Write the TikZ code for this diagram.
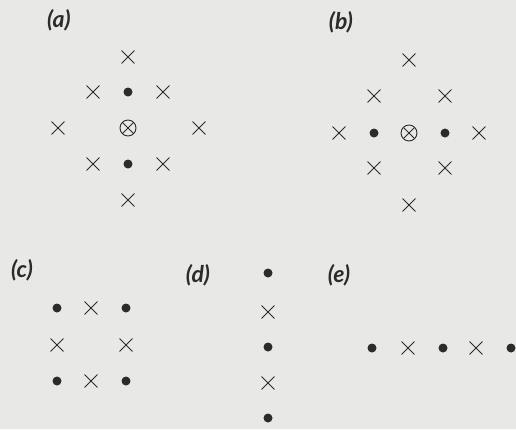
\documentclass[tikz,border=0pt]{standalone}
\usepackage{fontspec}
\newfontfamily\panelfont{Lato}
\usetikzlibrary{shapes.misc}
\definecolor{Paper}{HTML}{E8E8E6}
\definecolor{Ink}{HTML}{2B2B2B}

\begin{document}
\begin{tikzpicture}[x=1pt, y=-1pt,
  xmark/.style={cross out, draw=Ink, line width=0.9pt, minimum size=12pt, inner sep=0pt},
  dotmark/.style={circle, fill=Ink, minimum size=9pt, inner sep=0pt},
  otimes/.style={circle, draw=Ink, line width=0.9pt, minimum size=16pt, inner sep=0pt,
                 path picture={\draw[Ink, line width=0.9pt]
                   (path picture bounding box.north west) -- (path picture bounding box.south east)
                   (path picture bounding box.north east) -- (path picture bounding box.south west);}},
  panel/.style={font=\panelfont\itshape\bfseries\fontsize{23}{26}\selectfont, text=Ink}]
  \fill[Paper] (0,0) rectangle (516,429);
  \clip (0,0) rectangle (516,429);
  % (a)
  \node[panel] (la) at (59,20) {(a)};
  \node[otimes] (a0) at (128,128) {};
  \node[xmark] (a1) at (128,57) {};
  \node[xmark] (a2) at (93,92) {};
  \node[dotmark] (a3) at (128,92) {};
  \node[xmark] (a4) at (163,92) {};
  \node[xmark] (a5) at (58,128) {};
  \node[xmark] (a6) at (199,128) {};
  \node[xmark] (a7) at (93,164) {};
  \node[dotmark] (a8) at (128,164) {};
  \node[xmark] (a9) at (163,164) {};
  \node[xmark] (a10) at (128,200) {};
  % (b)
  \node[panel] (lb) at (341,22) {(b)};
  \node[otimes] (b0) at (409,133) {};
  \node[xmark] (b1) at (409,60) {};
  \node[xmark] (b2) at (374,96) {};
  \node[xmark] (b3) at (445,96) {};
  \node[xmark] (b4) at (339,133) {};
  \node[dotmark] (b5) at (374,133) {};
  \node[dotmark] (b6) at (445,133) {};
  \node[xmark] (b7) at (479,133) {};
  \node[xmark] (b8) at (374,168) {};
  \node[xmark] (b9) at (445,168) {};
  \node[xmark] (b10) at (409,205) {};
  % (c)
  \node[panel] (lc) at (22,270) {(c)};
  \node[dotmark] (c1) at (57,308) {};
  \node[xmark] (c2) at (91,308) {};
  \node[dotmark] (c3) at (126,308) {};
  \node[xmark] (c4) at (57,345) {};
  \node[xmark] (c5) at (126,345) {};
  \node[dotmark] (c6) at (57,381) {};
  \node[xmark] (c7) at (91,381) {};
  \node[dotmark] (c8) at (126,381) {};
  % (d)
  \node[panel] (ld) at (198,275) {(d)};
  \node[dotmark] (d1) at (268,273) {};
  \node[xmark] (d2) at (268,312) {};
  \node[dotmark] (d3) at (268,347) {};
  \node[xmark] (d4) at (268,383) {};
  \node[dotmark] (d5) at (268,418) {};
  % (e)
  \node[panel] (le) at (339,275) {(e)};
  \node[dotmark] (e1) at (372,348) {};
  \node[xmark] (e2) at (408,348) {};
  \node[dotmark] (e3) at (443,348) {};
  \node[xmark] (e4) at (476,348) {};
  \node[dotmark] (e5) at (511,348) {};
\end{tikzpicture}
\end{document}
